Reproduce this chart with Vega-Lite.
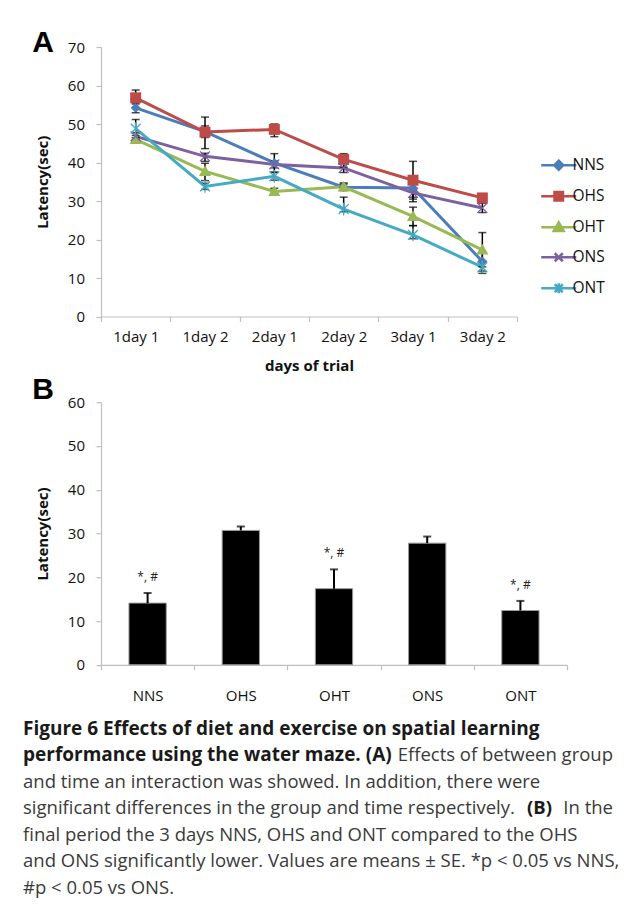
{
  "$schema": "https://vega.github.io/schema/vega-lite/v6.json",
  "background": "white",
  "padding": {"left": 23, "top": 28, "right": 4, "bottom": 2},
  "bounds": "flush",
  "spacing": 85.2,
  "resolve": {"scale": {"color": "independent"}},
  "config": {
    "view": {"stroke": null},
    "font": "Open Sans",
    "axis": {
      "labelFont": "Open Sans",
      "titleFont": "Open Sans",
      "labelFontSize": 15,
      "titleFontSize": 15,
      "titleFontWeight": "bold",
      "labelColor": "#111111",
      "titleColor": "#111111",
      "domainColor": "#bfbfbf",
      "tickColor": "#bfbfbf",
      "domainWidth": 1.2,
      "tickWidth": 1.2,
      "tickSize": 5,
      "grid": false
    }
  },
  "datasets": {
    "trial": [
      {"series": "NNS", "day": "1day 1", "mean": 54.2, "lo": 52.9, "hi": 55.5},
      {"series": "NNS", "day": "1day 2", "mean": 48.0, "lo": 46.5, "hi": 49.5},
      {"series": "NNS", "day": "2day 1", "mean": 39.9, "lo": 37.5, "hi": 42.3},
      {"series": "NNS", "day": "2day 2", "mean": 33.6, "lo": 32.8, "hi": 34.4},
      {"series": "NNS", "day": "3day 1", "mean": 33.4, "lo": 30.5, "hi": 36.5},
      {"series": "NNS", "day": "3day 2", "mean": 14.3, "lo": 11.8, "hi": 16.8},
      {"series": "OHS", "day": "1day 1", "mean": 56.8, "lo": 55.2, "hi": 58.8},
      {"series": "OHS", "day": "1day 2", "mean": 47.9, "lo": 43.6, "hi": 51.8},
      {"series": "OHS", "day": "2day 1", "mean": 48.6, "lo": 46.7, "hi": 50.0},
      {"series": "OHS", "day": "2day 2", "mean": 40.8, "lo": 38.8, "hi": 42.3},
      {"series": "OHS", "day": "3day 1", "mean": 35.4, "lo": 29.8, "hi": 40.3},
      {"series": "OHS", "day": "3day 2", "mean": 30.8, "lo": 29.9, "hi": 31.7},
      {"series": "OHT", "day": "1day 1", "mean": 46.0, "lo": 45.0, "hi": 47.0},
      {"series": "OHT", "day": "1day 2", "mean": 37.7, "lo": 35.3, "hi": 39.8},
      {"series": "OHT", "day": "2day 1", "mean": 32.5, "lo": 31.7, "hi": 33.3},
      {"series": "OHT", "day": "2day 2", "mean": 33.7, "lo": 32.7, "hi": 34.7},
      {"series": "OHT", "day": "3day 1", "mean": 26.0, "lo": 23.6, "hi": 28.4},
      {"series": "OHT", "day": "3day 2", "mean": 17.3, "lo": 12.9, "hi": 21.8},
      {"series": "ONS", "day": "1day 1", "mean": 46.8, "lo": 45.9, "hi": 47.7},
      {"series": "ONS", "day": "1day 2", "mean": 41.6, "lo": 40.3, "hi": 42.4},
      {"series": "ONS", "day": "2day 1", "mean": 39.5, "lo": 38.6, "hi": 40.4},
      {"series": "ONS", "day": "2day 2", "mean": 38.6, "lo": 37.4, "hi": 39.8},
      {"series": "ONS", "day": "3day 1", "mean": 32.1, "lo": 31.0, "hi": 33.2},
      {"series": "ONS", "day": "3day 2", "mean": 28.2, "lo": 27.0, "hi": 29.4},
      {"series": "ONT", "day": "1day 1", "mean": 48.8, "lo": 46.4, "hi": 51.2},
      {"series": "ONT", "day": "1day 2", "mean": 33.8, "lo": 33.0, "hi": 34.6},
      {"series": "ONT", "day": "2day 1", "mean": 36.4, "lo": 35.4, "hi": 37.4},
      {"series": "ONT", "day": "2day 2", "mean": 27.9, "lo": 27.2, "hi": 31.0},
      {"series": "ONT", "day": "3day 1", "mean": 21.2, "lo": 20.2, "hi": 23.6},
      {"series": "ONT", "day": "3day 2", "mean": 12.8, "lo": 11.2, "hi": 14.4}
    ],
    "final": [
      {"group": "NNS", "mean": 14.1, "hi": 16.4, "note": "*, #"},
      {"group": "OHS", "mean": 30.7, "hi": 31.6, "note": ""},
      {"group": "OHT", "mean": 17.4, "hi": 21.8, "note": "*, #"},
      {"group": "ONS", "mean": 27.8, "hi": 29.3, "note": ""},
      {"group": "ONT", "mean": 12.4, "hi": 14.6, "note": "*, #"}
    ],
    "caption": [
      {"line": 1, "pos": "start", "role": "heading", "text": "Figure 6 Effects of diet and exercise on spatial learning"},
      {"line": 2, "pos": "start", "role": "heading", "text": "performance using the water maze. (A)"},
      {"line": 2, "pos": "end", "role": "body", "text": "Effects of between group"},
      {"line": 3, "pos": "start", "role": "body", "text": "and time an interaction was showed. In addition, there were"},
      {"line": 4, "pos": "start", "role": "body", "text": "significant differences in the group and time respectively."},
      {"line": 4, "pos": "end", "role": "panel", "text": "(B)"},
      {"line": 4, "pos": "end", "role": "body", "text": "In the"},
      {"line": 5, "pos": "start", "role": "body", "text": "final period the 3 days NNS, OHS and ONT compared to the OHS"},
      {"line": 6, "pos": "start", "role": "body", "text": "and ONS significantly lower. Values are means ± SE. *p < 0.05 vs NNS,"},
      {"line": 7, "pos": "start", "role": "body", "text": "#p < 0.05 vs ONS."}
    ]
  },
  "vconcat": [
    {
      "width": 416,
      "height": 269.5,
      "title": {"text": "A", "anchor": "start", "frame": "bounds", "font": "Liberation Sans", "fontSize": 30, "fontWeight": "bold", "color": "#000000", "offset": -18, "dx": -3},
      "data": {"name": "trial"},
      "encoding": {
        "x": {
          "field": "day", "type": "nominal",
          "sort": ["1day 1", "1day 2", "2day 1", "2day 2", "3day 1", "3day 2"],
          "scale": {"type": "band", "paddingInner": 0, "paddingOuter": 0},
          "axis": {"title": "days of trial", "labelAngle": 0, "tickBand": "extent", "labelPadding": 8, "titlePadding": 14}
        }
      },
      "layer": [
        {
          "mark": {"type": "line", "strokeWidth": 3},
          "encoding": {
            "y": {"field": "mean", "type": "quantitative", "title": "Latency(sec)", "scale": {"domain": [0, 70], "nice": false}, "axis": {"values": [0, 10, 20, 30, 40, 50, 60, 70], "tickCount": 8, "labelPadding": 11.5, "titlePadding": 17}},
            "color": {
              "field": "series", "type": "nominal",
              "scale": {"domain": ["NNS", "OHS", "OHT", "ONS", "ONT"], "range": ["#4A7EBB", "#BE4B48", "#98B954", "#7D60A0", "#46AAC5"]},
              "legend": {
                "orient": "none", "legendX": 450, "legendY": 110.5,
                "title": null, "padding": 0,
                "labelFont": "Open Sans", "labelFontSize": 15.5, "labelColor": "#111111",
                "symbolSize": 100, "rowPadding": 11, "labelOffset": 6,
                "encode": {
                  "symbols": {
                    "update": {
                      "shape": {"signal": "datum.value === 'NNS' ? 'M0,-0.9L0.9,0L0,0.9L-0.9,0ZM-3.5,0L3.5,0' : datum.value === 'OHS' ? 'M-0.85,-0.85L0.85,-0.85L0.85,0.85L-0.85,0.85ZM-3.5,0L3.5,0' : datum.value === 'OHT' ? 'M0,-1L1,0.75L-1,0.75ZM-3.5,0L3.5,0' : datum.value === 'ONS' ? 'M-0.8,-0.8L0.8,0.8M-0.8,0.8L0.8,-0.8M-3.5,0L3.5,0' : 'M-0.8,-0.8L0.8,0.8M-0.8,0.8L0.8,-0.8M0,-1L0,1M-3.5,0L3.5,0'"},
                      "fill": {"signal": "datum.value === 'NNS' ? '#4A7EBB' : datum.value === 'OHS' ? '#BE4B48' : datum.value === 'OHT' ? '#98B954' : datum.value === 'ONS' ? '#7D60A0' : '#46AAC5'"},
                      "stroke": {"signal": "datum.value === 'NNS' ? '#4A7EBB' : datum.value === 'OHS' ? '#BE4B48' : datum.value === 'OHT' ? '#98B954' : datum.value === 'ONS' ? '#7D60A0' : '#46AAC5'"},
                      "strokeWidth": {"value": 2.5},
                      "opacity": {"value": 1}
                    }
                  }
                }
              }
            }
          }
        },
        {
          "mark": {"type": "rule", "color": "#000000", "strokeWidth": 1.5},
          "encoding": {
            "y": {"field": "lo", "type": "quantitative", "title": "Latency(sec)", "scale": {"domain": [0, 70], "nice": false}, "axis": {"values": [0, 10, 20, 30, 40, 50, 60, 70], "tickCount": 8, "labelPadding": 11.5, "titlePadding": 17}},
            "y2": {"field": "hi"}
          }
        },
        {
          "mark": {"type": "tick", "color": "#000000", "size": 8, "thickness": 1.5},
          "encoding": {"y": {"field": "lo", "type": "quantitative", "title": "Latency(sec)", "scale": {"domain": [0, 70], "nice": false}, "axis": {"values": [0, 10, 20, 30, 40, 50, 60, 70], "tickCount": 8, "labelPadding": 11.5, "titlePadding": 17}}}
        },
        {
          "mark": {"type": "tick", "color": "#000000", "size": 8, "thickness": 1.5},
          "encoding": {"y": {"field": "hi", "type": "quantitative", "title": "Latency(sec)", "scale": {"domain": [0, 70], "nice": false}, "axis": {"values": [0, 10, 20, 30, 40, 50, 60, 70], "tickCount": 8, "labelPadding": 11.5, "titlePadding": 17}}}
        },
        {
          "transform": [{"filter": {"field": "series", "oneOf": ["NNS", "OHS", "OHT"]}}],
          "mark": {"type": "point", "filled": true, "opacity": 1, "size": 121},
          "encoding": {
            "y": {"field": "mean", "type": "quantitative", "title": "Latency(sec)", "scale": {"domain": [0, 70], "nice": false}, "axis": {"values": [0, 10, 20, 30, 40, 50, 60, 70], "tickCount": 8, "labelPadding": 11.5, "titlePadding": 17}},
            "color": {"field": "series", "type": "nominal", "legend": null},
            "shape": {
              "field": "series", "type": "nominal", "legend": null,
              "scale": {"domain": ["NNS", "OHS", "OHT", "ONS", "ONT"], "range": ["M0,-0.9L0.9,0L0,0.9L-0.9,0Z", "M-1,-1H1V1H-1Z", "M0,-1.1L1.1,0.85H-1.1Z", "M-0.9,-0.9L0.9,0.9M-0.9,0.9L0.9,-0.9", "M-0.9,-0.9L0.9,0.9M-0.9,0.9L0.9,-0.9M0,-1.15V1.15"]}
            }
          }
        },
        {
          "transform": [{"filter": {"field": "series", "oneOf": ["ONS", "ONT"]}}],
          "mark": {"type": "point", "filled": false, "opacity": 1, "size": 121, "strokeWidth": 1.3},
          "encoding": {
            "y": {"field": "mean", "type": "quantitative", "title": "Latency(sec)", "scale": {"domain": [0, 70], "nice": false}, "axis": {"values": [0, 10, 20, 30, 40, 50, 60, 70], "tickCount": 8, "labelPadding": 11.5, "titlePadding": 17}},
            "color": {"field": "series", "type": "nominal", "legend": null},
            "shape": {"field": "series", "type": "nominal", "legend": null}
          }
        }
      ]
    },
    {
      "width": 466,
      "height": 262.6,
      "title": {"text": "B", "anchor": "start", "frame": "bounds", "font": "Liberation Sans", "fontSize": 30, "fontWeight": "bold", "color": "#000000", "offset": -10, "dx": -3},
      "data": {"name": "final"},
      "encoding": {
        "x": {
          "field": "group", "type": "nominal",
          "sort": ["NNS", "OHS", "OHT", "ONS", "ONT"],
          "scale": {"type": "band", "paddingInner": 0, "paddingOuter": 0},
          "axis": {"title": null, "labelAngle": 0, "tickBand": "extent", "labelPadding": 18.5}
        }
      },
      "layer": [
        {
          "mark": {"type": "bar", "color": "#000000", "stroke": "#9a9a9a", "strokeWidth": 1, "width": {"band": 0.4}},
          "encoding": {
            "y": {"field": "mean", "type": "quantitative", "title": "Latency(sec)", "scale": {"domain": [0, 60], "nice": false}, "axis": {"values": [0, 10, 20, 30, 40, 50, 60], "labelPadding": 11.5, "titlePadding": 17}}
          }
        },
        {
          "mark": {"type": "rule", "color": "#000000", "strokeWidth": 2},
          "encoding": {
            "y": {"field": "mean", "type": "quantitative", "title": "Latency(sec)"},
            "y2": {"field": "hi"}
          }
        },
        {
          "mark": {"type": "tick", "color": "#000000", "size": 8, "thickness": 2},
          "encoding": {"y": {"field": "hi", "type": "quantitative", "title": "Latency(sec)"}}
        },
        {
          "mark": {"type": "text", "dy": -16, "fontSize": 12, "color": "#222222", "font": "Open Sans"},
          "encoding": {
            "y": {"field": "hi", "type": "quantitative", "title": "Latency(sec)"},
            "text": {"field": "note"}
          }
        }
      ]
    },
    {
      "width": 512,
      "height": 140,
      "data": {"name": "caption"},
      "encoding": {
        "y": {"field": "line", "type": "quantitative", "scale": {"domain": [1.811, 7.094], "reverse": true, "nice": false, "zero": false}, "axis": null},
        "text": {"field": "text"}
      },
      "layer": [
        {
          "transform": [{"filter": "datum.role === 'heading'"}],
          "mark": {"type": "text", "align": "left", "baseline": "middle", "font": "Open Sans", "fontSize": 19, "fontWeight": "bold", "color": "#1a1a1a"},
          "encoding": {"x": {"datum": 0, "type": "quantitative", "scale": {"domain": [0.1322, 1], "nice": false, "zero": false}, "axis": null}}
        },
        {
          "transform": [{"filter": "datum.role === 'body' && datum.pos === 'start'"}],
          "mark": {"type": "text", "align": "left", "baseline": "middle", "font": "Open Sans", "fontSize": 18.5, "color": "#3a3a3a"},
          "encoding": {"x": {"datum": 0, "type": "quantitative", "scale": {"domain": [0.1322, 1], "nice": false, "zero": false}, "axis": null}}
        },
        {
          "transform": [{"filter": "datum.role === 'body' && datum.pos === 'end'"}],
          "mark": {"type": "text", "align": "right", "baseline": "middle", "font": "Open Sans", "fontSize": 18.5, "color": "#3a3a3a"},
          "encoding": {"x": {"datum": 1, "type": "quantitative", "scale": {"domain": [0.1322, 1], "nice": false, "zero": false}, "axis": null}}
        },
        {
          "transform": [{"filter": "datum.role === 'panel'"}],
          "mark": {"type": "text", "align": "right", "baseline": "middle", "font": "Open Sans", "fontSize": 18.5, "fontWeight": "bold", "color": "#1a1a1a", "dx": -61},
          "encoding": {"x": {"datum": 1, "type": "quantitative", "scale": {"domain": [0.1322, 1], "nice": false, "zero": false}, "axis": null}}
        }
      ]
    }
  ]
}
